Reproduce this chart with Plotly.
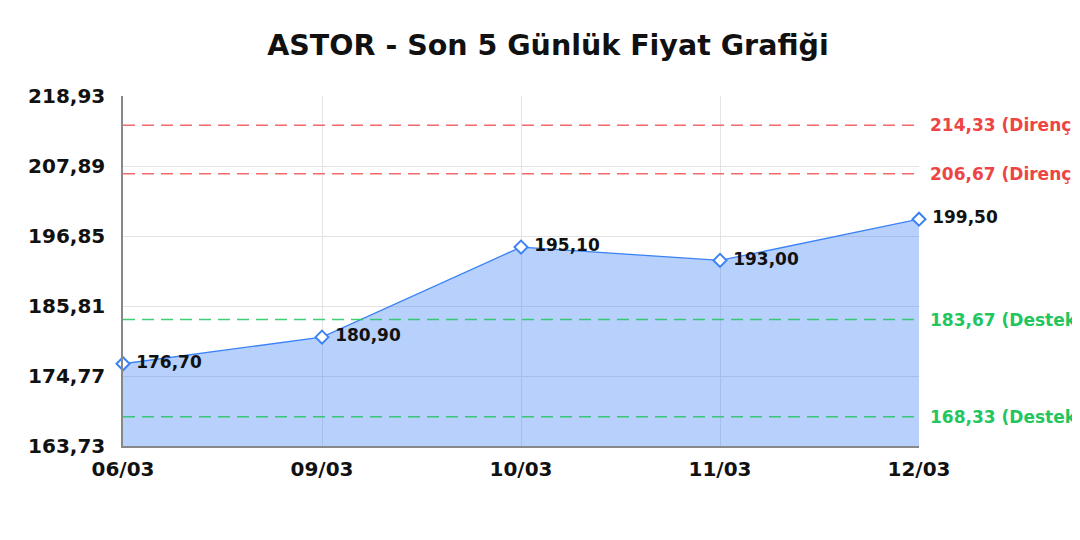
import plotly.graph_objects as go

dates = ["06/03", "09/03", "10/03", "11/03", "12/03"]
prices = [176.70, 180.90, 195.10, 193.00, 199.50]
y_ticks = [163.73, 174.77, 185.81, 196.85, 207.89, 218.93]
resistance = [214.33, 206.67]
support = [183.67, 168.33]

def fmt(v):
    return f"{v:.2f}".replace(".", ",")

FONT = "DejaVu Sans"
x_idx = list(range(len(dates)))

fig = go.Figure()
fig.add_trace(go.Scatter(
    x=x_idx, y=prices, mode="lines+markers+text",
    fill="tozeroy", fillcolor="rgba(59,130,246,0.37)",
    line=dict(color="#3b82f6", width=1.3),
    marker=dict(symbol="diamond", size=10, color="white",
                line=dict(width=2, color="#3b82f6")),
    text=[" " + fmt(p) for p in prices], textposition="middle right",
    textfont=dict(family=FONT, size=17, color="#111111", weight="bold"),
    cliponaxis=False, showlegend=False, hoverinfo="skip",
))

shapes = []
annotations = []
levels = ([(v, "rgba(239,68,68,0.8)", "#ef4444", " (Direnç)") for v in resistance]
          + [(v, "rgba(34,197,94,0.85)", "#22c55e", " (Destek)") for v in support])
for lvl, lcol, tcol, suffix in levels:
    shapes.append(dict(type="line", xref="paper", x0=0, x1=1, yref="y", y0=lvl, y1=lvl,
                       line=dict(color=lcol, width=1.5, dash="12px,7px"), layer="above"))
    annotations.append(dict(xref="paper", x=1, xanchor="left", xshift=9, yref="y", y=lvl,
                            yanchor="middle", text=fmt(lvl) + suffix, showarrow=False,
                            font=dict(family=FONT, size=17, color=tcol, weight="bold")))

fig.update_layout(
    width=1080, height=540,
    margin=dict(l=115, r=169, t=88, b=102),
    paper_bgcolor="white", plot_bgcolor="white",
    title=dict(text="ASTOR - Son 5 Günlük Fiyat Grafiği", x=0.5, xanchor="center",
               y=0.9315, yanchor="middle",
               font=dict(family=FONT, size=28.5, color="#111111", weight="bold")),
    shapes=shapes, annotations=annotations,
    xaxis=dict(range=[0, len(dates) - 1], tickvals=x_idx, ticktext=dates,
               showgrid=True, gridcolor="#e3e3e3", zeroline=False,
               showline=True, linecolor="#888888", linewidth=1.5,
               ticks="", ticklen=0, ticklabelstandoff=4,
               tickfont=dict(family=FONT, size=20, color="#111111", weight="bold")),
    yaxis=dict(range=[y_ticks[0], y_ticks[-1]], tickvals=y_ticks,
               ticktext=[fmt(v) for v in y_ticks],
               showgrid=True, gridcolor="#e3e3e3", zeroline=False,
               showline=True, linecolor="#888888", linewidth=1.5,
               ticks="", ticklen=0, ticklabelstandoff=12,
               tickfont=dict(family=FONT, size=20, color="#111111", weight="bold")),
)
fig.write_html("out.html")
